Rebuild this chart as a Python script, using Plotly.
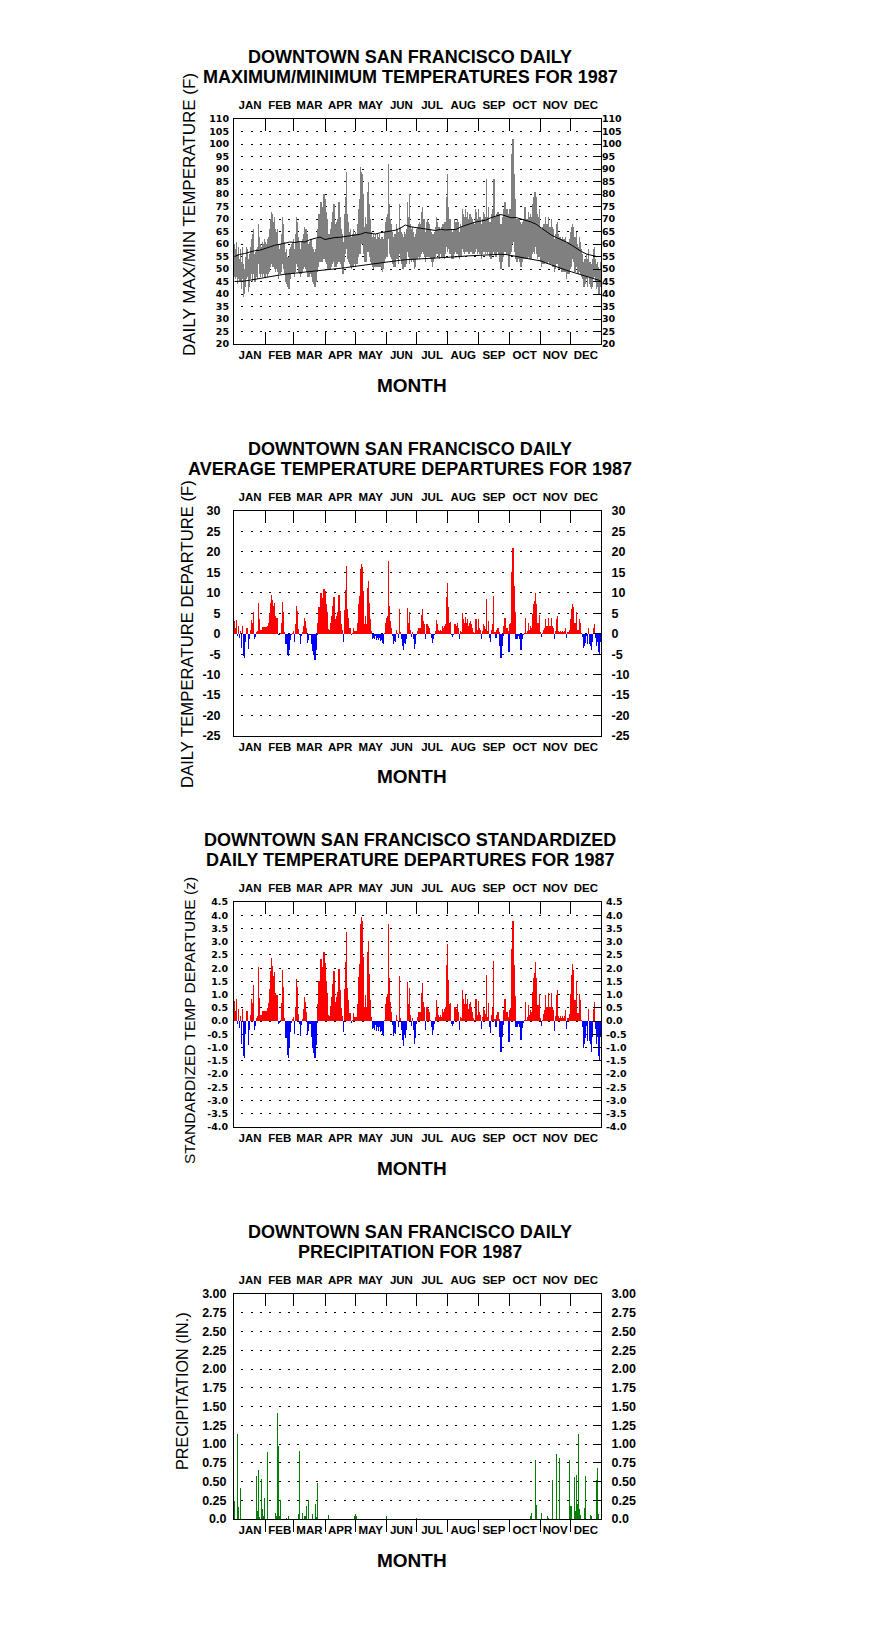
import plotly.graph_objects as go

# ---------------- data ----------------
months = ["JAN", "FEB", "MAR", "APR", "MAY", "JUN", "JUL", "AUG", "SEP", "OCT", "NOV", "DEC"]
month_start = [1, 32, 60, 91, 121, 152, 182, 213, 244, 274, 305, 335]
month_mid = [16.5, 46, 75.5, 106, 136.5, 167, 197.5, 228.5, 259, 289.5, 320, 350.5]
days = list(range(1, 366))

tmax = [
    60, 58, 61, 56, 59, 54, 58, 53, 59, 52, 50, 55, 59, 58, 54, 56, 59, 62, 64, 66, 56, 57, 58, 59, 68, 63, 60, 59, 61, 60, 62,
    61, 60, 62, 63, 66, 70, 73, 72, 69, 71, 66, 65, 66, 60, 58, 60, 64, 71, 68, 61, 57, 58, 55, 55, 58, 59, 60, 61,
    62, 58, 64, 71, 69, 63, 61, 58, 61, 62, 64, 67, 66, 64, 59, 60, 61, 62, 59, 58, 57, 56, 58, 62, 66, 72, 71, 77, 74, 75, 80,
    78, 73, 70, 64, 63, 64, 66, 69, 73, 76, 68, 65, 69, 70, 77, 71, 66, 64, 61, 72, 79, 89, 72, 69, 65, 66, 63, 64, 66, 64,
    65, 64, 68, 74, 78, 91, 89, 88, 80, 67, 71, 68, 81, 85, 76, 70, 65, 63, 64, 63, 64, 62, 64, 63, 64, 62, 63, 63, 62, 65, 69,
    71, 72, 92, 76, 70, 68, 65, 63, 64, 64, 68, 66, 65, 76, 67, 65, 64, 63, 65, 64, 66, 77, 71, 80, 68, 66, 67, 65, 63, 64,
    66, 67, 68, 69, 68, 73, 75, 70, 70, 65, 69, 70, 69, 68, 66, 65, 64, 64, 65, 67, 71, 69, 67, 67, 66, 67, 68, 68, 69, 69, 79,
    88, 75, 70, 70, 66, 65, 66, 70, 69, 69, 70, 69, 65, 68, 67, 74, 72, 71, 74, 71, 73, 70, 72, 72, 71, 70, 69, 68, 74, 73, 70,
    74, 71, 71, 68, 70, 73, 72, 71, 86, 71, 75, 69, 68, 72, 74, 86, 71, 70, 72, 73, 72, 68, 66, 68, 71, 74, 77, 73, 74, 72,
    66, 74, 74, 96, 102, 88, 78, 69, 70, 70, 70, 69, 66, 68, 69, 70, 75, 70, 70, 73, 71, 72, 71, 76, 79, 81, 81, 79, 72, 71, 74,
    67, 66, 67, 68, 68, 71, 68, 68, 71, 67, 67, 70, 67, 66, 62, 64, 68, 69, 64, 63, 63, 62, 63, 62, 62, 63, 61, 61, 61, 62,
    65, 67, 68, 67, 63, 63, 65, 60, 59, 63, 61, 58, 56, 53, 54, 54, 56, 54, 58, 53, 53, 52, 54, 58, 59, 54, 52, 53, 51, 50, 53,
]
tmin = [
    47, 46, 47, 44, 46, 45, 45, 42, 46, 39, 40, 43, 46, 47, 41, 43, 46, 48, 45, 48, 45, 45, 47, 46, 52, 48, 47, 48, 47, 48, 47,
    47, 48, 47, 48, 49, 51, 52, 51, 51, 50, 49, 50, 49, 46, 48, 48, 49, 52, 50, 48, 45, 44, 43, 42, 42, 46, 48, 48,
    48, 47, 49, 52, 51, 49, 48, 47, 48, 49, 50, 51, 50, 49, 47, 47, 49, 48, 47, 45, 44, 43, 45, 49, 51, 53, 53, 55, 53, 54, 54,
    55, 53, 52, 50, 50, 50, 51, 52, 53, 55, 51, 51, 52, 53, 55, 53, 52, 51, 48, 53, 56, 58, 54, 53, 52, 51, 50, 51, 51, 52,
    51, 52, 52, 55, 56, 56, 60, 60, 56, 53, 53, 53, 57, 57, 55, 53, 52, 51, 50, 51, 51, 51, 51, 51, 51, 51, 50, 49, 50, 53, 54,
    55, 55, 62, 56, 55, 54, 52, 51, 51, 51, 54, 54, 52, 56, 54, 52, 50, 50, 51, 51, 52, 57, 55, 52, 54, 53, 54, 53, 50, 51,
    54, 54, 55, 54, 55, 56, 57, 56, 55, 53, 55, 55, 55, 55, 54, 53, 51, 53, 54, 55, 56, 56, 55, 54, 56, 55, 55, 55, 54, 56, 59,
    57, 58, 56, 56, 54, 54, 54, 56, 57, 56, 56, 55, 54, 55, 55, 58, 57, 56, 57, 57, 57, 56, 56, 57, 57, 56, 56, 56, 57, 58, 56,
    57, 56, 56, 54, 56, 57, 57, 56, 57, 56, 57, 55, 54, 56, 57, 59, 56, 55, 57, 57, 56, 53, 50, 53, 55, 57, 58, 57, 56, 56,
    51, 56, 57, 60, 65, 61, 57, 54, 53, 54, 54, 53, 51, 53, 54, 54, 56, 54, 54, 55, 54, 54, 54, 56, 57, 56, 59, 56, 54, 55, 55,
    53, 51, 52, 52, 52, 53, 52, 52, 53, 52, 52, 52, 51, 51, 49, 50, 52, 52, 50, 50, 50, 49, 49, 49, 49, 49, 46, 48, 48, 48,
    50, 51, 54, 53, 49, 49, 51, 48, 48, 49, 48, 47, 46, 43, 43, 44, 46, 43, 47, 44, 43, 42, 43, 46, 47, 45, 42, 43, 40, 40, 43,
]

normal_days = [1, 6, 11, 16, 21, 26, 31, 36, 41, 46, 51, 56, 61, 66, 71, 76, 81, 86, 91, 96, 101, 106, 111, 116, 121, 126,
               131, 136, 141, 146, 151, 156, 161, 166, 171, 176, 181, 186, 191, 196, 201, 206, 211, 216, 221, 226, 231, 236,
               241, 246, 251, 256, 261, 266, 271, 276, 281, 286, 291, 296, 301, 306, 311, 316, 321, 326, 331, 336, 341, 346,
               351, 356, 361, 365]
normal_max = [55.0, 55.8, 56.2, 56.8, 57.3, 57.5, 58.3, 58.8, 59.5, 59.8, 60.3, 60.8, 60.6, 61.0, 60.8, 61.7, 62.3, 62.8,
              61.8, 62.3, 62.6, 62.7, 63.0, 63.5, 63.6, 63.9, 64.6, 64.2, 64.0, 64.5, 64.8, 65.3, 65.5, 66.4, 67.6, 66.9,
              66.6, 66.0, 66.0, 65.6, 65.4, 65.9, 65.6, 65.8, 65.8, 66.8, 67.6, 68.2, 68.8, 69.2, 69.6, 70.5, 71.2, 71.8,
              71.2, 70.5, 70.6, 70.0, 69.7, 68.8, 67.9, 66.5, 64.8, 63.6, 62.6, 61.8, 60.8, 59.6, 58.2, 57.0, 56.0, 55.5,
              55.0, 55.0]
normal_min = [45.0, 45.0, 45.2, 45.5, 45.9, 46.2, 46.5, 46.9, 47.3, 47.6, 47.9, 48.1, 48.3, 48.4, 48.6, 48.8, 49.0, 49.3,
              49.5, 49.7, 49.9, 50.2, 50.5, 50.8, 51.1, 51.4, 51.7, 52.0, 52.3, 52.6, 52.8, 53.1, 53.3, 53.5, 53.7, 53.8,
              54.0, 54.0, 54.1, 54.2, 54.3, 54.4, 54.5, 54.6, 54.8, 55.0, 55.2, 55.3, 55.5, 55.6, 55.8, 55.9, 56.0, 55.9,
              55.8, 55.5, 55.2, 54.8, 54.3, 53.9, 53.6, 53.2, 52.4, 51.6, 50.8, 50.2, 49.5, 48.9, 48.3, 47.7, 47.2, 46.6,
              45.8, 45.3]

departure = [
    3, 1.5, 3.4, -0.5, 1.8, -1, 0.7, -3.4, 1.8, -5.5, -6, -2, 1.5, 1.5, -3.7, -1.4, 1, 3.3, 2.7, 5.4, -1.4, -0.7, 0.4, 0.7, 7.6, 3.5, 1, 1, 1.6, 1.6, 1.6,
    1.6, 1.6, 1.9, 2.7, 4.8, 7.6, 9.5, 8.3, 6.8, 7.4, 4.3, 3.9, 3.9, -0.4, -0.3, 0.2, 2.7, 7.8, 5.2, 0.4, -2.6, -2.6, -5.1, -5.5, -3.9, -1.6, -0.3, 0.3,
    0.7, -2, 2.3, 6.8, 5.6, 1.2, -0.4, -2.5, -0.6, 0.4, 2, 3.9, 3.1, 1.5, -2.2, -1.6, -0.4, -0.4, -2.6, -4.3, -5.2, -6.3, -3.9, -0.3, 2.7, 6.6, 6, 10, 7.5, 8.8, 10.9,
    10.5, 7.3, 5.2, 1.2, 0.7, 1, 2.7, 4.3, 6.8, 9.1, 3.5, 1.5, 4.3, 5.3, 9.4, 5.6, 2.3, 1, -2, 5.8, 10.7, 16.5, 6, 3.9, 1.5, 1.5, -0.4, 0.2, 1.5, 0.7,
    0.7, 0.7, 2.7, 7.2, 9.3, 15.8, 17, 16.2, 10.5, 2.3, 4.3, 2.3, 11.3, 13, 7.6, 3.5, 0.7, -1.2, -1.1, -1.4, -0.6, -1.6, -1, -1.6, -1, -1.8, -1.6, -2.2, -2.5, 0.2, 2.7,
    3.9, 4.3, 17.9, 6.8, 3.1, 1.5, -0.6, -2.4, -1.8, -2, 1, 0.2, -1, 6.1, 0.4, -1.4, -3, -3.9, -2.2, -2.6, -1.4, 6.2, 2.7, 5.2, 1, -0.7, 0.4, -1.4, -3.7, -2.6,
    -0.4, 0.7, 1.4, 1.4, 1.4, 4.5, 6.1, 3, 2.3, -1.4, 2.3, 2.3, 1.9, 1.5, 0.2, -1, -2.2, -1.4, -0.4, 0.7, 3.4, 2.3, 1, 0.7, 1, 0.7, 1.9, 1.5, 1.9, 2.3, 8.9,
    12.3, 6.6, 2.7, 2.9, -0.4, -0.7, -0.4, 2.3, 2.3, 1.9, 2.7, 1.5, -1.4, 0.7, 0.4, 5, 3.5, 2.7, 4.2, 2.7, 3.5, 1.9, 2.7, 3.1, 2.3, 1.5, 0.4, 0.2, 3.5, 3.5, 1,
    3.5, 1.5, 1, -1.4, 0.7, 2.3, 1.9, 1.2, 8.4, 0.7, 3.1, -1, -2, 1, 2.3, 9.3, 0.4, -1, 1, 1.5, 0.4, -3, -5.9, -3, -0.6, 1.9, 3.9, 1.5, 1.5, 0.7,
    -4.4, 2.3, 2.7, 15, 20.9, 11.7, 5.2, -1.2, -1.2, -0.6, -0.4, -1.2, -3.9, -1.4, -0.4, 0.2, 3.9, 0.2, 0.7, 2.7, 1, 1.9, 1.5, 4.8, 7.2, 8, 9.9, 7.2, 2.7, 2.7, 4.5,
    0.4, -0.7, 0.2, 1, 1.5, 3.5, 1.9, 1.9, 3.9, 1.9, 1.9, 3.9, 1.9, 1.5, -1.4, 0.7, 3.5, 4.3, 0.7, 0.4, 0.7, 0.4, 0.7, 0.4, 0.7, 1.5, -1, 0.4, 0.4, 1,
    3.5, 6, 7.3, 6.6, 2.7, 2.7, 5.2, 1, 1, 3.5, 2.7, 0.2, -0.7, -3.4, -3, -2.2, -0.6, -2.6, 1.5, -2.6, -3, -4, -2, 1.5, 2.5, -1, -3, -2, -4.5, -5, -2,
]

z_departure = [
    0.75, 0.38, 0.85, -0.12, 0.45, -0.25, 0.18, -0.85, 0.45, -1.3, -1.4, -0.5, 0.38, 0.38, -0.92, -0.35, 0.25, 0.82, 0.68, 1.35, -0.35, -0.18, 0.1, 0.18, 2.05, 0.88, 0.25, 0.25, 0.4, 0.4, 0.4,
    0.4, 0.4, 0.48, 0.68, 1.2, 1.9, 2.38, 2.08, 1.7, 1.85, 1.08, 0.98, 0.98, -0.1, -0.08, 0.05, 0.68, 1.95, 1.3, 0.1, -0.65, -0.65, -1.28, -1.38, -0.98, -0.4, -0.08, 0.08,
    0.16, -0.47, 0.53, 1.58, 1.3, 0.28, -0.09, -0.58, -0.14, 0.09, 0.47, 0.91, 0.72, 0.35, -0.51, -0.37, -0.09, -0.09, -0.6, -1.0, -1.21, -1.4, -0.91, -0.07, 0.63, 1.53, 1.4, 2.33, 1.74, 2.05, 2.6,
    2.19, 1.52, 1.08, 0.25, 0.15, 0.21, 0.56, 0.9, 1.42, 1.9, 0.73, 0.31, 0.9, 1.1, 1.96, 1.17, 0.48, 0.21, -0.42, 1.21, 2.23, 3.35, 1.25, 0.81, 0.31, 0.31, -0.08, 0.04, 0.31, 0.15,
    0.16, 0.16, 0.63, 1.67, 2.16, 3.67, 3.95, 3.77, 2.44, 0.53, 1.0, 0.53, 2.63, 3.02, 1.77, 0.81, 0.16, -0.28, -0.26, -0.33, -0.14, -0.37, -0.23, -0.37, -0.23, -0.42, -0.37, -0.51, -0.58, 0.05, 0.63,
    0.93, 1.02, 3.68, 1.62, 0.74, 0.36, -0.14, -0.57, -0.43, -0.48, 0.24, 0.05, -0.24, 1.7, 0.1, -0.33, -0.71, -0.93, -0.52, -0.62, -0.33, 1.48, 0.64, 1.24, 0.24, -0.17, 0.1, -0.33, -0.88, -0.62,
    -0.1, 0.17, 0.33, 0.33, 0.33, 1.07, 1.45, 0.71, 0.55, -0.33, 0.55, 0.55, 0.45, 0.36, 0.05, -0.24, -0.52, -0.33, -0.1, 0.17, 0.81, 0.55, 0.24, 0.17, 0.24, 0.17, 0.45, 0.36, 0.45, 0.55, 2.12,
    2.93, 1.57, 0.64, 0.69, -0.1, -0.17, -0.1, 0.55, 0.55, 0.45, 0.64, 0.36, -0.33, 0.17, 0.1, 1.19, 0.83, 0.64, 1.0, 0.64, 0.83, 0.45, 0.64, 0.74, 0.55, 0.36, 0.1, 0.05, 0.83, 0.83, 0.24,
    0.76, 0.33, 0.22, -0.3, 0.15, 0.5, 0.41, 0.26, 1.75, 0.15, 0.67, -0.22, -0.43, 0.22, 0.5, 2.27, 0.09, -0.22, 0.22, 0.33, 0.09, -0.6, -1.15, -0.6, -0.13, 0.41, 0.85, 0.33, 0.33, 0.15,
    -0.8, 0.42, 0.49, 2.73, 3.8, 2.13, 0.95, -0.22, -0.22, -0.11, -0.07, -0.22, -0.71, -0.25, -0.07, 0.04, 0.71, 0.05, 0.16, 0.61, 0.23, 0.43, 0.34, 1.09, 1.64, 1.82, 2.25, 1.64, 0.61, 0.61, 1.02,
    0.11, -0.19, 0.06, 0.28, 0.42, 0.97, 0.53, 0.53, 1.08, 0.53, 0.53, 1.08, 0.53, 0.42, -0.39, 0.19, 0.97, 1.19, 0.19, 0.11, 0.19, 0.11, 0.19, 0.11, 0.19, 0.42, -0.28, 0.11, 0.11, 0.28,
    1.03, 1.76, 2.15, 1.94, 0.79, 0.79, 1.53, 0.29, 0.29, 1.03, 0.79, 0.06, -0.21, -1.0, -0.88, -0.65, -0.18, -0.76, 0.44, -0.76, -0.88, -1.18, -0.59, 0.44, 0.74, -0.29, -0.88, -0.59, -1.32, -1.47, -0.59,
]

precip_day = [1, 4, 5, 7, 23, 24, 25, 26, 28, 29, 30, 31, 34, 42, 43, 44, 45, 46, 47, 53, 55, 65, 66, 69, 71, 72, 73, 75,
              79, 82, 83, 84, 94, 120, 121, 122, 152, 182, 295, 296, 300, 301, 306, 312, 313, 317, 321, 324, 334, 335,
              336, 339, 340, 341, 342, 343, 344, 345, 349, 350, 355, 356, 361, 362, 363]
precip_in = [0.24, 1.13, 0.16, 0.42, 0.57, 0.11, 0.65, 0.03, 0.53, 0.14, 0.04, 0.28, 0.89, 0.08, 0.04, 1.41, 0.97, 0.04,
             0.25, 0.02, 0.04, 0.07, 0.91, 0.08, 0.04, 0.04, 0.18, 0.25, 0.07, 0.20, 0.03, 0.48, 0.05, 0.04, 0.07, 0.04,
             0.04, 0.01, 0.04, 0.08, 0.79, 0.19, 0.08, 0.04, 0.02, 0.52, 0.87, 0.81, 0.79, 0.18, 0.18, 0.56, 0.11, 0.59,
             0.20, 1.13, 0.13, 0.06, 0.15, 0.57, 0.05, 0.04, 0.52, 0.68, 0.07]

temp_ticks = [20, 25, 30, 35, 40, 45, 50, 55, 60, 65, 70, 75, 80, 85, 90, 95, 100, 105, 110]
temp_labels = ["20", "25", "30", "35", "40", "45", "50", "55", "60", "65", "70", "75", "80", "85", "90", "95", "100", "105", "110"]
dep_ticks = [-25, -20, -15, -10, -5, 0, 5, 10, 15, 20, 25, 30]
dep_labels = ["-25", "-20", "-15", "-10", "-5", "0", "5", "10", "15", "20", "25", "30"]
z_ticks = [-4.0, -3.5, -3.0, -2.5, -2.0, -1.5, -1.0, -0.5, 0.0, 0.5, 1.0, 1.5, 2.0, 2.5, 3.0, 3.5, 4.0, 4.5]
z_labels = ["-4.0", "-3.5", "-3.0", "-2.5", "-2.0", "-1.5", "-1.0", "-0.5", "0.0", "0.5", "1.0", "1.5", "2.0", "2.5",
            "3.0", "3.5", "4.0", "4.5"]
pcp_ticks = [0, 0.25, 0.5, 0.75, 1.0, 1.25, 1.5, 1.75, 2.0, 2.25, 2.5, 2.75, 3.0]
pcp_labels = ["0.0", "0.25", "0.50", "0.75", "1.00", "1.25", "1.50", "1.75", "2.00", "2.25", "2.50", "2.75", "3.00"]

for name, arr in [("tmax", tmax), ("tmin", tmin), ("departure", departure), ("z", z_departure)]:
    assert len(arr) == 365, (name, len(arr))
assert len(normal_days) == len(normal_max) == len(normal_min)
assert len(precip_day) == len(precip_in)

titles = [
    ("DOWNTOWN SAN FRANCISCO DAILY", "MAXIMUM/MINIMUM TEMPERATURES FOR 1987"),
    ("DOWNTOWN SAN FRANCISCO DAILY", "AVERAGE TEMPERATURE DEPARTURES FOR 1987"),
    ("DOWNTOWN SAN FRANCISCO STANDARDIZED", "DAILY TEMPERATURE DEPARTURES FOR 1987"),
    ("DOWNTOWN SAN FRANCISCO DAILY", "PRECIPITATION FOR 1987"),
]
ytitles = ["DAILY MAX/MIN TEMPERATURE (F)", "DAILY TEMPERATURE DEPARTURE (F)",
           "STANDARDIZED TEMP DEPARTURE (z)", "PRECIPITATION (IN.)"]

# ---------------- layout geometry (target page pixels) ----------------
PAGE_W, PAGE_H = 876, 1634
OFF = 8                      # default page margin around the figure
FW, FH = 858, 1616           # figure size so that figure + margins fits the page
X0, X1 = 234, 601
TOPS = [119, 511, 902, 1294]
PH = 225
YT_X = [190, 187, 190, 182]
YT_Y = [215, 634, 1021, 1391]
YT_SIZE = [17, 16.7, 15.5, 16.2]
LEFT_STANDOFF = [2, 10, 3, 4]
RIGHT_STANDOFF = [-2, 7, 2, 7]
BAR_W = [1.2, 1.15, 1.15, 1.0]

GRAY, RED, BLUE, GREEN = "#808080", "#ff0000", "#0000ff", "#008000"
SANS = "Liberation Sans, Arial, sans-serif"
SMALL = "DejaVu Sans, Verdana, sans-serif"


def px(x):
    return (x - OFF) / FW


def py(y):
    return 1 - (y - OFF) / FH


fig = go.Figure()

# panel 1: daily max/min as vertical bars from min to max, plus normals
fig.add_trace(go.Bar(x=days, y=[hi - lo for hi, lo in zip(tmax, tmin)], base=tmin, width=BAR_W[0],
                     marker=dict(color=GRAY, line=dict(width=0)), xaxis="x", yaxis="y"))
fig.add_trace(go.Scatter(x=normal_days, y=normal_max, mode="lines", line=dict(color="black", width=1),
                         xaxis="x", yaxis="y"))
fig.add_trace(go.Scatter(x=normal_days, y=normal_min, mode="lines", line=dict(color="black", width=1),
                         xaxis="x", yaxis="y"))
# panel 2
fig.add_trace(go.Bar(x=days, y=departure, width=BAR_W[1],
                     marker=dict(color=[RED if v >= 0 else BLUE for v in departure], line=dict(width=0)),
                     xaxis="x2", yaxis="y2"))
# panel 3
fig.add_trace(go.Bar(x=days, y=z_departure, width=BAR_W[2],
                     marker=dict(color=[RED if v >= 0 else BLUE for v in z_departure], line=dict(width=0)),
                     xaxis="x3", yaxis="y3"))
# panel 4
fig.add_trace(go.Bar(x=precip_day, y=precip_in, width=BAR_W[3],
                     marker=dict(color=GREEN, line=dict(width=0)), xaxis="x4", yaxis="y4"))
# empty traces so that the top / right axes of every panel are drawn
for n in range(5, 9):
    fig.add_trace(go.Scatter(x=[None], y=[None], mode="markers", hoverinfo="skip",
                             xaxis=f"x{n}", yaxis=f"y{n}"))

yspecs = [
    dict(range=[20, 110], tickvals=temp_ticks, ticktext=temp_labels, font=dict(family=SMALL, size=9.5, color="black", weight="bold")),
    dict(range=[-25, 30], tickvals=dep_ticks, ticktext=dep_labels, font=dict(family=SANS, size=12.5, color="black", weight="bold")),
    dict(range=[-4.0, 4.5], tickvals=z_ticks, ticktext=z_labels, font=dict(family=SMALL, size=9.5, color="black", weight="bold")),
    dict(range=[0, 3.0], tickvals=pcp_ticks, ticktext=pcp_labels, font=dict(family=SANS, size=12.5, color="black", weight="bold")),
]
bottom_ticks = ["inside", "", "", "outside"]
mfont = dict(family=SANS, size=11.5, color="black", weight="bold")

layout = dict(
    width=FW, height=FH, margin=dict(l=0, r=0, t=0, b=0, autoexpand=False),
    paper_bgcolor="white", plot_bgcolor="white", showlegend=False,
    bargap=0, barmode="overlay", annotations=[],
)

for k in range(4):
    n = k + 1
    xb = "xaxis" if n == 1 else f"xaxis{n}"
    yb = "yaxis" if n == 1 else f"yaxis{n}"
    xref = "x" if n == 1 else f"x{n}"
    yref = "y" if n == 1 else f"y{n}"
    top = TOPS[k]
    ydom = [py(top + PH), py(top)]
    spec = yspecs[k]
    layout[xb] = dict(
        domain=[px(X0), px(X1)], anchor=yref, range=[0.5, 365.5],
        tickmode="array", tickvals=month_mid, ticktext=months, ticks="", tickfont=mfont, tickangle=0,
        ticklabelstandoff=0,
        showline=True, linecolor="black", linewidth=1, showgrid=False, zeroline=False, fixedrange=True,
        minor=dict(tickmode="array", tickvals=month_start[1:], ticks=bottom_ticks[k], ticklen=12,
                   tickcolor="black", tickwidth=1, showgrid=False),
    )
    layout[f"xaxis{n + 4}"] = dict(
        overlaying=xref, anchor=yref, side="top", range=[0.5, 365.5],
        tickmode="array", tickvals=month_mid, ticktext=months, ticks="", tickfont=mfont, tickangle=0,
        ticklabelstandoff=4,
        showline=True, linecolor="black", linewidth=1, showgrid=False, zeroline=False, fixedrange=True,
        minor=dict(tickmode="array", tickvals=month_start[1:], ticks="inside", ticklen=12,
                   tickcolor="black", tickwidth=1, showgrid=False),
    )
    layout[yb] = dict(
        domain=ydom, anchor=xref, range=spec["range"], tickmode="array",
        tickvals=spec["tickvals"], ticktext=spec["ticktext"], ticks="", tickfont=spec["font"],
        ticklabelstandoff=LEFT_STANDOFF[k],
        showline=True, linecolor="black", linewidth=1, zeroline=False, fixedrange=True,
        showgrid=True, gridcolor="black", gridwidth=1, griddash="0px,7.3px,2px,0px",
    )
    layout[f"yaxis{n + 4}"] = dict(
        overlaying=yref, anchor=xref, side="right", range=spec["range"], tickmode="array",
        tickvals=spec["tickvals"], ticktext=spec["ticktext"], ticks="inside", ticklen=8,
        tickcolor="black", tickwidth=1, tickfont=spec["font"], ticklabelstandoff=RIGHT_STANDOFF[k],
        showline=True, linecolor="black", linewidth=1, zeroline=False, showgrid=False, fixedrange=True,
    )
    t1, t2 = titles[k]
    for txt, yy in [(t1, top - 62), (t2, top - 42)]:
        layout["annotations"].append(dict(
            text=txt, x=px(410), y=py(yy), xref="paper", yref="paper", xanchor="center", yanchor="middle",
            showarrow=False, font=dict(family=SANS, size=18, color="black", weight="bold")))
    layout["annotations"].append(dict(
        text="MONTH", x=px(412), y=py(top + PH + 41), xref="paper", yref="paper", xanchor="center",
        yanchor="middle", showarrow=False, font=dict(family=SANS, size=19, color="black", weight="bold")))
    layout["annotations"].append(dict(
        text=ytitles[k], x=px(YT_X[k]), y=py(YT_Y[k]), xref="paper", yref="paper", xanchor="center",
        yanchor="middle", textangle=-90, showarrow=False,
        font=dict(family=SANS, size=YT_SIZE[k], color="black")))

fig.update_layout(**layout)
fig.write_html("out.html", config={"displayModeBar": False, "staticPlot": True})
